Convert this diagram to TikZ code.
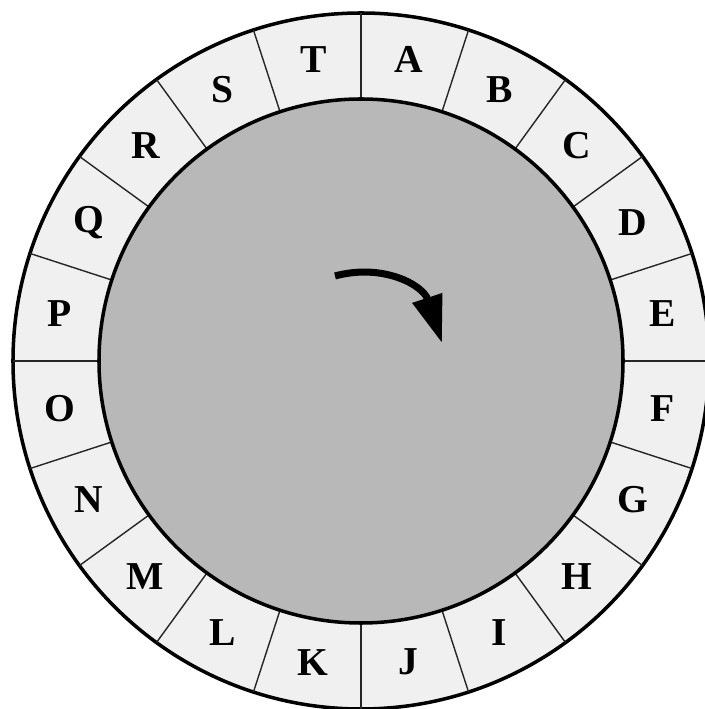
\documentclass[tikz,border=0pt]{standalone}
\usepackage{fontspec}
\setmainfont{Liberation Serif}
\usetikzlibrary{arrows.meta}

\begin{document}
\begin{tikzpicture}[
    x=0.02cm, y=0.02cm,
    ring/.style={draw, line width=2pt, fill=black!6},
    hub/.style={draw, line width=2pt, fill=black!28},
    spoke/.style={draw, line width=0.8pt, black!85},
    letter/.style={font=\fontsize{22.5}{26}\selectfont\bfseries, inner sep=0pt},
    turn/.style={line width=4pt, -{Triangle[length=27pt, width=17pt]}}
]
\useasboundingbox (-361,-348) rectangle (343,361);

% --- Ring ---
\draw[ring] (0,0) circle[radius=348];
\foreach \i in {0,...,19}
    \draw[spoke] (90-18*\i:262) -- (90-18*\i:348);

% --- Letters ---
\foreach \l [count=\i from 0] in {A,B,C,D,E,F,G,H,I,J,K,L,M,N,O,P,Q,R,S,T}
    \node[letter] (\l) at (81-18*\i:305) {\l};

% --- Hub ---
\draw[hub] (0,0) circle[radius=262];

\coordinate (turn start) at (-26,85);
\coordinate (turn end) at (81,18);
\draw[turn] (turn start) .. controls (22,98) and (62,76) .. (turn end);

\end{tikzpicture}
\end{document}
